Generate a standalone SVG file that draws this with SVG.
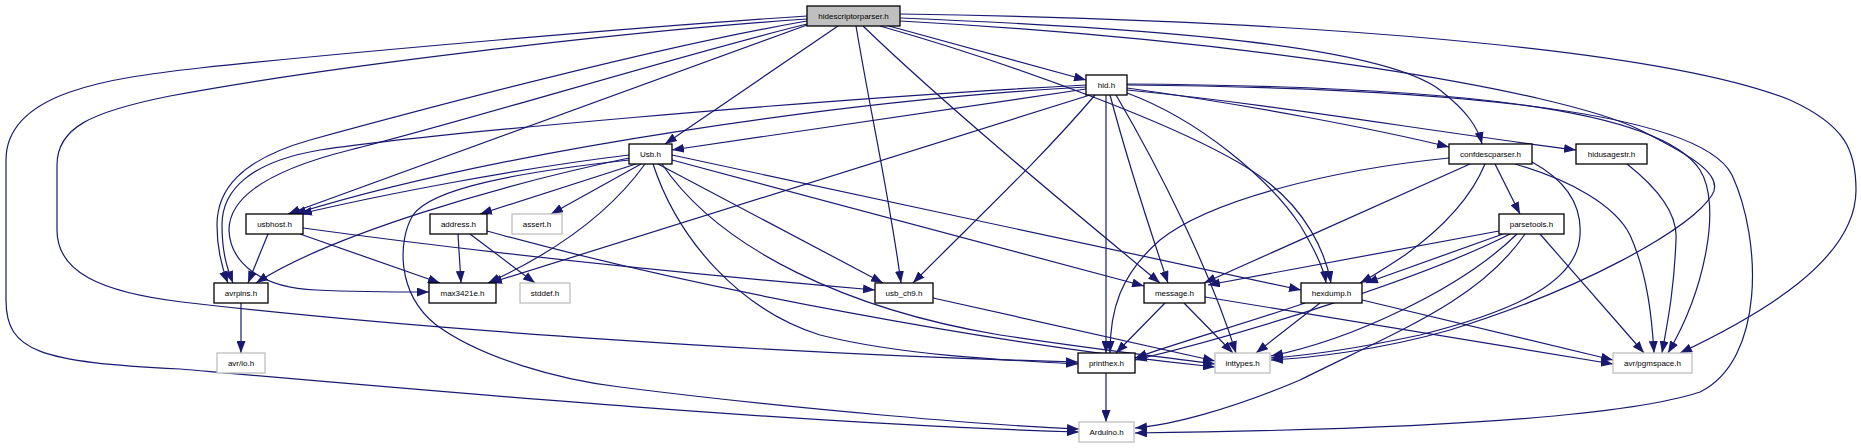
<svg xmlns="http://www.w3.org/2000/svg" width="1861" height="448" viewBox="0 0 1861 448">
<style>
.n rect{fill:#fff;stroke:#000;stroke-width:1.3}
.x rect{fill:#fff;stroke:#bfbfbf;stroke-width:1.3}
.r rect{fill:#bfbfbf;stroke:#000;stroke-width:1.3}
text{font-family:"Liberation Sans",Arial,sans-serif;font-size:8px;fill:#000;text-anchor:middle}
#edges path{fill:none;stroke:#191970;stroke-width:1.2;marker-end:url(#a)}
</style>
<defs>
<marker id="a" viewBox="0 0 12 9" refX="12" refY="4.5" markerWidth="12" markerHeight="9" markerUnits="userSpaceOnUse" orient="auto"><path d="M0,0L12,4.5L0,9z" fill="#191970"/></marker>
</defs>
<rect width="1861" height="448" fill="#fff"/>
<g id="edges">
<path d="M807,16 C650,26 350,52 200,68 C110,78 6,92 6,160 L6,300 C6,352 40,362 180,369 C420,390 800,424 1079,432"/>
<path d="M807,19 C620,32 330,66 170,96 C90,112 57,128 57,165 L57,230 C57,272 100,292 182,302 C420,330 800,355 1078,362"/>
<path d="M807,21 C650,48 420,110 310,140 C240,160 217,190 217,225 C217,250 222,268 228,283"/>
<path d="M807,24 C680,55 470,120 350,150 C262,172 229,200 229,230 C230,262 260,288 316,290 C360,292 400,292 429,292"/>
<path d="M807,25 L288,214"/>
<path d="M838,26 L665,144"/>
<path d="M856,26 C870,110 890,200 901,283"/>
<path d="M863,26 C950,110 1090,225 1160,283"/>
<path d="M889,26 L1086,80"/>
<path d="M880,26 C1000,60 1200,130 1265,180 C1305,210 1325,250 1331,283"/>
<path d="M900,18 C1150,28 1380,45 1440,90 C1468,112 1478,128 1482,144"/>
<path d="M900,21 C1250,40 1560,90 1640,130 C1690,155 1725,175 1712,195 C1690,230 1580,290 1450,330 C1380,350 1310,358 1271,360"/>
<path d="M900,14 C1300,20 1660,48 1790,100 C1845,125 1856,150 1856,190 C1856,260 1760,315 1680,353"/>
<path d="M1086,89 L672,150"/>
<path d="M1086,87 C850,100 500,150 294,214"/>
<path d="M1086,85 C800,100 420,135 320,150 C250,162 222,190 222,225 C222,255 228,270 233,283"/>
<path d="M1090,95 L490,283"/>
<path d="M1095,95 C1040,160 970,225 913,283"/>
<path d="M1106,95 L1106,353"/>
<path d="M1110,95 C1130,170 1150,230 1168,283"/>
<path d="M1116,95 C1160,170 1210,270 1236,353"/>
<path d="M1127,93 C1200,120 1270,180 1300,225 C1315,250 1324,268 1326,283"/>
<path d="M1127,88 C1250,105 1380,130 1449,147"/>
<path d="M1127,90 C1280,105 1420,130 1576,150"/>
<path d="M1127,84 C1450,86 1660,108 1700,170 C1722,205 1705,290 1668,353"/>
<path d="M1127,85 C1460,88 1700,112 1732,175 C1762,240 1765,360 1700,392 C1600,425 1300,431 1135,433"/>
<path d="M629,155 C520,168 380,195 300,214"/>
<path d="M629,158 C500,185 330,235 256,283"/>
<path d="M629,160 C520,172 432,188 413,215 C398,240 396,292 435,324 C480,358 560,380 620,387 C800,410 1000,426 1079,429"/>
<path d="M636,164 L480,214"/>
<path d="M641,164 L551,214"/>
<path d="M645,164 C612,210 560,250 488,283"/>
<path d="M658,164 L883,283"/>
<path d="M672,160 L1144,286"/>
<path d="M672,155 L1301,290"/>
<path d="M653,164 C678,240 740,310 820,335 C900,355 1000,360 1078,364"/>
<path d="M662,164 C720,250 850,310 1000,335 C1100,350 1170,358 1215,364"/>
<path d="M268,234 L248,283"/>
<path d="M300,234 L440,283"/>
<path d="M303,228 C500,255 700,275 875,290"/>
<path d="M458,234 L461,283"/>
<path d="M470,234 L535,283"/>
<path d="M487,231 C700,290 1000,345 1215,367"/>
<path d="M241,303 L241,353"/>
<path d="M933,298 L1215,361"/>
<path d="M1165,303 L1116,353"/>
<path d="M1184,303 L1233,353"/>
<path d="M1205,297 L1613,364"/>
<path d="M1305,303 C1250,322 1180,342 1135,358"/>
<path d="M1320,303 L1256,353"/>
<path d="M1362,300 L1613,360"/>
<path d="M1106,373 L1106,422"/>
<path d="M1449,158 C1330,170 1210,200 1160,240 C1120,275 1110,310 1110,353"/>
<path d="M1470,164 L1204,283"/>
<path d="M1485,164 C1470,200 1440,230 1405,255 C1390,265 1375,275 1360,283"/>
<path d="M1495,164 L1520,214"/>
<path d="M1532,162 C1565,180 1582,205 1580,235 C1578,280 1520,310 1420,335 C1350,350 1300,356 1271,358"/>
<path d="M1515,164 C1570,180 1615,205 1630,235 C1648,275 1652,320 1654,353"/>
<path d="M1499,231 L1208,285"/>
<path d="M1503,234 L1366,283"/>
<path d="M1510,234 C1430,275 1260,330 1135,360"/>
<path d="M1517,234 C1460,290 1350,340 1271,356"/>
<path d="M1525,234 C1480,300 1400,330 1300,380 C1230,410 1170,425 1135,428"/>
<path d="M1540,234 L1644,353"/>
<path d="M1627,164 C1660,190 1678,215 1676,240 C1674,290 1668,320 1662,353"/>
</g>
<g id="hidescriptorparser" class="r"><rect x="807" y="6" width="93" height="20"/><text x="853.5" y="19">hidescriptorparser.h</text></g>
<g id="hid" class="n"><rect x="1086" y="75" width="41" height="20"/><text x="1106.5" y="88">hid.h</text></g>
<g id="usb" class="n"><rect x="629" y="144" width="43" height="20"/><text x="650.5" y="157">Usb.h</text></g>
<g id="confdescparser" class="n"><rect x="1449" y="144" width="83" height="20"/><text x="1490.5" y="157">confdescparser.h</text></g>
<g id="hidusagestr" class="n"><rect x="1576" y="144" width="71" height="20"/><text x="1611.5" y="157">hidusagestr.h</text></g>
<g id="usbhost" class="n"><rect x="246" y="214" width="57" height="20"/><text x="274.5" y="227">usbhost.h</text></g>
<g id="address" class="n"><rect x="430" y="214" width="57" height="20"/><text x="458.5" y="227">address.h</text></g>
<g id="assert" class="x"><rect x="512" y="214" width="50" height="20"/><text x="537" y="227">assert.h</text></g>
<g id="parsetools" class="n"><rect x="1499" y="214" width="65" height="20"/><text x="1531.5" y="227">parsetools.h</text></g>
<g id="avrpins" class="n"><rect x="214" y="283" width="54" height="20"/><text x="241" y="296">avrpins.h</text></g>
<g id="max3421e" class="n"><rect x="429" y="283" width="67" height="20"/><text x="462.5" y="296">max3421e.h</text></g>
<g id="stddef" class="x"><rect x="520" y="283" width="50" height="20"/><text x="545" y="296">stddef.h</text></g>
<g id="usb_ch9" class="n"><rect x="875" y="283" width="58" height="20"/><text x="904" y="296">usb_ch9.h</text></g>
<g id="message" class="n"><rect x="1144" y="283" width="61" height="20"/><text x="1174.5" y="296">message.h</text></g>
<g id="hexdump" class="n"><rect x="1301" y="283" width="61" height="20"/><text x="1331.5" y="296">hexdump.h</text></g>
<g id="avrio" class="x"><rect x="217" y="353" width="48" height="20"/><text x="241" y="366">avr/io.h</text></g>
<g id="printhex" class="n"><rect x="1078" y="353" width="57" height="20"/><text x="1106.5" y="366">printhex.h</text></g>
<g id="inttypes" class="x"><rect x="1215" y="353" width="55" height="20"/><text x="1242.5" y="366">inttypes.h</text></g>
<g id="pgmspace" class="x"><rect x="1613" y="353" width="79" height="20"/><text x="1652.5" y="366">avr/pgmspace.h</text></g>
<g id="arduino" class="x"><rect x="1079" y="422" width="55" height="20"/><text x="1106.5" y="435">Arduino.h</text></g>
</svg>
